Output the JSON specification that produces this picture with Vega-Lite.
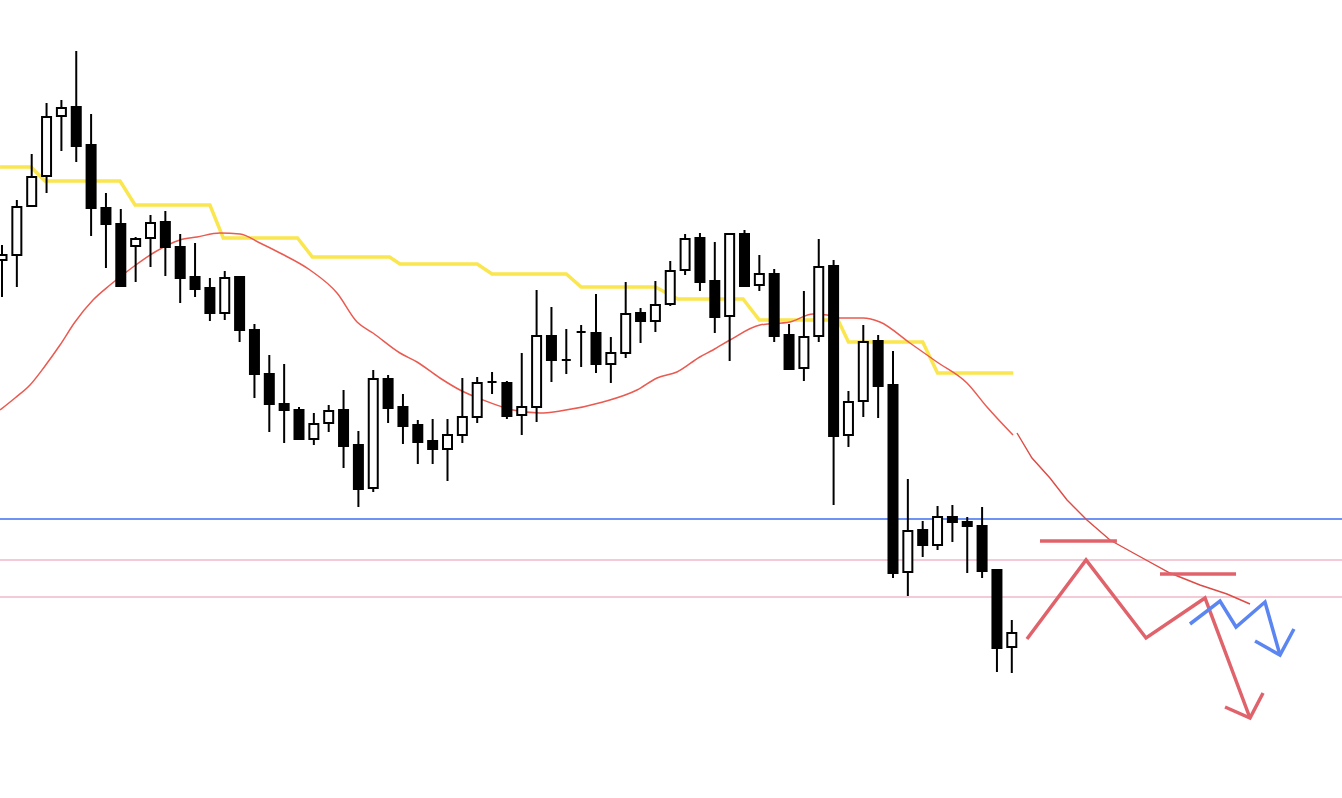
{
  "$schema": "https://vega.github.io/schema/vega-lite/v6.json",
  "width": 1342,
  "height": 798,
  "padding": 0,
  "autosize": {"type": "none"},
  "background": "white",
  "config": {"view": {"stroke": null}},
  "datasets": {
    "candles": [
      {"t":0,"open":145.40,"close":145.45,"high":145.55,"low":145.03},
      {"t":1,"open":145.45,"close":145.93,"high":146.00,"low":145.13},
      {"t":2,"open":145.94,"close":146.23,"high":146.46,"low":145.94},
      {"t":3,"open":146.24,"close":146.83,"high":146.97,"low":146.07},
      {"t":4,"open":146.84,"close":146.92,"high":147.00,"low":146.49},
      {"t":5,"open":146.93,"close":146.54,"high":147.49,"low":146.38},
      {"t":6,"open":146.55,"close":145.92,"high":146.86,"low":145.64},
      {"t":7,"open":145.92,"close":145.76,"high":146.07,"low":145.32},
      {"t":8,"open":145.76,"close":145.14,"high":145.91,"low":145.13},
      {"t":9,"open":145.54,"close":145.61,"high":145.63,"low":145.18},
      {"t":10,"open":145.62,"close":145.77,"high":145.85,"low":145.33},
      {"t":11,"open":145.78,"close":145.53,"high":145.89,"low":145.24},
      {"t":12,"open":145.53,"close":145.22,"high":145.66,"low":144.97},
      {"t":13,"open":145.23,"close":145.11,"high":145.57,"low":145.03},
      {"t":14,"open":145.12,"close":144.87,"high":145.22,"low":144.79},
      {"t":15,"open":144.87,"close":145.22,"high":145.29,"low":144.80},
      {"t":16,"open":145.23,"close":144.70,"high":145.23,"low":144.58},
      {"t":17,"open":144.70,"close":144.26,"high":144.76,"low":144.02},
      {"t":18,"open":144.26,"close":143.96,"high":144.45,"low":143.68},
      {"t":19,"open":143.96,"close":143.90,"high":144.36,"low":143.57},
      {"t":20,"open":143.90,"close":143.61,"high":143.93,"low":143.60},
      {"t":21,"open":143.61,"close":143.76,"high":143.87,"low":143.55},
      {"t":22,"open":143.77,"close":143.89,"high":143.95,"low":143.68},
      {"t":23,"open":143.90,"close":143.54,"high":144.10,"low":143.32},
      {"t":24,"open":143.55,"close":143.11,"high":143.69,"low":142.93},
      {"t":25,"open":143.12,"close":144.21,"high":144.30,"low":143.08},
      {"t":26,"open":144.21,"close":143.92,"high":144.25,"low":143.77},
      {"t":27,"open":143.93,"close":143.74,"high":144.06,"low":143.56},
      {"t":28,"open":143.75,"close":143.58,"high":143.80,"low":143.36},
      {"t":29,"open":143.59,"close":143.51,"high":143.81,"low":143.36},
      {"t":30,"open":143.51,"close":143.65,"high":143.81,"low":143.19},
      {"t":31,"open":143.65,"close":143.83,"high":144.22,"low":143.57},
      {"t":32,"open":143.83,"close":144.17,"high":144.23,"low":143.77},
      {"t":33,"open":144.18,"close":144.18,"high":144.28,"low":144.06},
      {"t":34,"open":144.17,"close":143.84,"high":144.19,"low":143.81},
      {"t":35,"open":143.85,"close":143.93,"high":144.47,"low":143.65},
      {"t":36,"open":143.93,"close":144.64,"high":145.10,"low":143.78},
      {"t":37,"open":144.64,"close":144.40,"high":144.93,"low":144.18},
      {"t":38,"open":144.40,"close":144.40,"high":144.71,"low":144.26},
      {"t":39,"open":144.68,"close":144.68,"high":144.75,"low":144.33},
      {"t":40,"open":144.67,"close":144.36,"high":145.06,"low":144.27},
      {"t":41,"open":144.36,"close":144.47,"high":144.63,"low":144.17},
      {"t":42,"open":144.47,"close":144.86,"high":145.18,"low":144.42},
      {"t":43,"open":144.87,"close":144.79,"high":144.92,"low":144.57},
      {"t":44,"open":144.79,"close":144.95,"high":145.19,"low":144.68},
      {"t":45,"open":144.96,"close":145.29,"high":145.39,"low":144.94},
      {"t":46,"open":145.30,"close":145.61,"high":145.66,"low":145.25},
      {"t":47,"open":145.62,"close":145.18,"high":145.67,"low":145.09},
      {"t":48,"open":145.19,"close":144.83,"high":145.58,"low":144.67},
      {"t":49,"open":144.84,"close":145.66,"high":145.67,"low":144.39},
      {"t":50,"open":145.66,"close":145.14,"high":145.70,"low":145.14},
      {"t":51,"open":145.15,"close":145.26,"high":145.45,"low":145.09},
      {"t":52,"open":145.26,"close":144.64,"high":145.31,"low":144.58},
      {"t":53,"open":144.65,"close":144.31,"high":144.76,"low":144.31},
      {"t":54,"open":144.32,"close":144.63,"high":145.09,"low":144.19},
      {"t":55,"open":144.64,"close":145.33,"high":145.61,"low":144.58},
      {"t":56,"open":145.34,"close":143.64,"high":145.40,"low":142.95},
      {"t":57,"open":143.65,"close":143.98,"high":144.09,"low":143.53},
      {"t":58,"open":143.99,"close":144.58,"high":144.75,"low":143.83},
      {"t":59,"open":144.59,"close":144.14,"high":144.65,"low":143.82},
      {"t":60,"open":144.15,"close":142.27,"high":144.49,"low":142.22},
      {"t":61,"open":142.28,"close":142.69,"high":143.21,"low":142.04},
      {"t":62,"open":142.70,"close":142.55,"high":142.79,"low":142.43},
      {"t":63,"open":142.55,"close":142.83,"high":142.94,"low":142.50},
      {"t":64,"open":142.83,"close":142.78,"high":142.95,"low":142.58},
      {"t":65,"open":142.78,"close":142.74,"high":142.83,"low":142.27},
      {"t":66,"open":142.74,"close":142.29,"high":142.93,"low":142.22},
      {"t":67,"open":142.30,"close":141.52,"high":142.31,"low":141.28},
      {"t":68,"open":141.53,"close":141.67,"high":141.80,"low":141.27}
    ],
    "htf": [
      {"t":-0.13,"p":146.33},{"t":1.95,"p":146.33},{"t":2.9,"p":146.19},{"t":7.95,"p":146.19},
      {"t":8.96,"p":145.95},{"t":14.0,"p":145.95},{"t":14.9,"p":145.62},{"t":19.9,"p":145.62},
      {"t":20.9,"p":145.43},{"t":26.1,"p":145.43},{"t":26.8,"p":145.36},{"t":32.0,"p":145.36},
      {"t":33.0,"p":145.26},{"t":38.0,"p":145.26},{"t":39.0,"p":145.13},{"t":44.0,"p":145.13},
      {"t":45.5,"p":145.01},{"t":49.9,"p":145.01},{"t":51.0,"p":144.80},{"t":56.3,"p":144.80},
      {"t":57.0,"p":144.58},{"t":62.0,"p":144.58},{"t":63.0,"p":144.27},{"t":68.1,"p":144.27}
    ],
    "ma": [
      {"t":-0.13,"p":143.90},{"t":0.875,"p":144.02},{"t":1.886,"p":144.15},{"t":2.896,"p":144.34},
      {"t":3.906,"p":144.55},{"t":4.916,"p":144.78},{"t":6.128,"p":145.00},{"t":7.273,"p":145.15},
      {"t":8.822,"p":145.33},{"t":10.30,"p":145.48},{"t":11.99,"p":145.60},{"t":13.13,"p":145.63},
      {"t":14.68,"p":145.67},{"t":16.03,"p":145.66},{"t":17.37,"p":145.57},{"t":18.72,"p":145.47},
      {"t":20.74,"p":145.30},{"t":22.56,"p":145.07},{"t":23.91,"p":144.78},{"t":24.98,"p":144.67},
      {"t":26.80,"p":144.47},{"t":27.95,"p":144.38},{"t":29.49,"p":144.22},{"t":30.84,"p":144.10},
      {"t":32.39,"p":144.00},{"t":34.41,"p":143.90},{"t":36.23,"p":143.87},{"t":37.58,"p":143.89},
      {"t":40.47,"p":143.98},{"t":42.76,"p":144.10},{"t":44.11,"p":144.22},{"t":45.45,"p":144.28},
      {"t":46.99,"p":144.43},{"t":47.88,"p":144.50},{"t":49.02,"p":144.60},{"t":51.04,"p":144.75},
      {"t":53.06,"p":144.78},{"t":54.61,"p":144.86},{"t":55.56,"p":144.85},{"t":56.43,"p":144.82},
      {"t":57.98,"p":144.82},{"t":59.12,"p":144.78},{"t":61.14,"p":144.57},{"t":62.96,"p":144.38},
      {"t":64.98,"p":144.17},{"t":66.33,"p":143.93},{"t":68.08,"p":143.65}
    ],
    "ma2": [
      {"t":68.35,"p":143.67},{"t":69.36,"p":143.42},{"t":70.57,"p":143.22},{"t":71.72,"p":143.00},
      {"t":73.06,"p":142.80},{"t":74.61,"p":142.60},{"t":76.43,"p":142.45},{"t":78.65,"p":142.27},
      {"t":80.67,"p":142.15},{"t":82.49,"p":142.06},{"t":84.04,"p":141.96}
    ],
    "levels": [
      {"lvl":"blue","p":142.81},
      {"lvl":"pink","p":142.40},
      {"lvl":"pink","p":142.03}
    ],
    "segs": [
      {"t":69.9,"t2":75.08,"p":142.59},
      {"t":77.98,"t2":83.1,"p":142.26}
    ],
    "redpath": [
      {"s":"a","k":1,"t":69.02,"p":141.61},{"s":"a","k":2,"t":73.0,"p":142.40},
      {"s":"a","k":3,"t":77.04,"p":141.62},{"s":"a","k":4,"t":81.01,"p":142.02},
      {"s":"a","k":5,"t":84.04,"p":140.82},
      {"s":"b","k":1,"t":82.36,"p":140.93},{"s":"b","k":2,"t":84.04,"p":140.82},
      {"s":"b","k":3,"t":84.92,"p":141.07}
    ],
    "bluepath": [
      {"s":"a","k":1,"t":80.0,"p":141.76},{"s":"a","k":2,"t":82.02,"p":141.99},
      {"s":"a","k":3,"t":83.1,"p":141.73},{"s":"a","k":4,"t":85.05,"p":141.98},
      {"s":"a","k":5,"t":86.06,"p":141.45},
      {"s":"b","k":1,"t":84.38,"p":141.59},{"s":"b","k":2,"t":86.06,"p":141.45},
      {"s":"b","k":3,"t":87.0,"p":141.71}
    ]
  },
  "layer": [
    {
      "data": {"name": "levels"},
      "mark": {"type": "rule", "strokeWidth": 1.5},
      "encoding": {
        "y": {"field": "p", "type": "quantitative", "scale": {"domain": [140.02, 148], "zero": false, "nice": false, "padding": 0}, "axis": null},
        "color": {"field": "lvl", "type": "nominal", "scale": {"domain": ["blue", "pink"], "range": ["#3f6ef2", "#f1b9c9"]}, "legend": null}
      }
    },
    {
      "data": {"name": "htf"},
      "mark": {"type": "line", "color": "#fae64f", "strokeWidth": 3.5, "strokeJoin": "miter"},
      "encoding": {
        "x": {"field": "t", "type": "quantitative", "scale": {"domain": [-0.1347, 90.236], "zero": false, "nice": false, "padding": 0}, "axis": null},
        "y": {"field": "p", "type": "quantitative", "axis": null}
      }
    },
    {
      "data": {"name": "ma"},
      "mark": {"type": "line", "color": "#ea5a50", "strokeWidth": 1.5, "interpolate": "monotone"},
      "encoding": {
        "x": {"field": "t", "type": "quantitative", "axis": null},
        "y": {"field": "p", "type": "quantitative", "axis": null}
      }
    },
    {
      "data": {"name": "ma2"},
      "mark": {"type": "line", "color": "#de4a44", "strokeWidth": 1.4},
      "encoding": {
        "x": {"field": "t", "type": "quantitative", "axis": null},
        "y": {"field": "p", "type": "quantitative", "axis": null}
      }
    },
    {
      "data": {"name": "segs"},
      "mark": {"type": "rule", "color": "#e0636b", "strokeWidth": 3.5},
      "encoding": {
        "x": {"field": "t", "type": "quantitative", "axis": null},
        "x2": {"field": "t2"},
        "y": {"field": "p", "type": "quantitative", "axis": null}
      }
    },
    {
      "data": {"name": "redpath"},
      "mark": {"type": "line", "color": "#e0636b", "strokeWidth": 3.5, "strokeJoin": "miter"},
      "encoding": {
        "x": {"field": "t", "type": "quantitative", "axis": null},
        "y": {"field": "p", "type": "quantitative", "axis": null},
        "detail": {"field": "s"},
        "order": {"field": "k"}
      }
    },
    {
      "data": {"name": "bluepath"},
      "mark": {"type": "line", "color": "#5b86f2", "strokeWidth": 3.5, "strokeJoin": "miter"},
      "encoding": {
        "x": {"field": "t", "type": "quantitative", "axis": null},
        "y": {"field": "p", "type": "quantitative", "axis": null},
        "detail": {"field": "s"},
        "order": {"field": "k"}
      }
    },
    {
      "data": {"name": "candles"},
      "mark": {"type": "rule", "color": "#000000", "strokeWidth": 2},
      "encoding": {
        "x": {"field": "t", "type": "quantitative", "axis": null},
        "y": {"field": "low", "type": "quantitative", "axis": null},
        "y2": {"field": "high"}
      }
    },
    {
      "data": {"name": "candles"},
      "mark": {"type": "bar", "size": 9, "stroke": "#000000", "strokeWidth": 2},
      "encoding": {
        "x": {"field": "t", "type": "quantitative", "axis": null},
        "y": {"field": "open", "type": "quantitative", "axis": null},
        "y2": {"field": "close"},
        "fill": {"condition": {"test": "datum.close > datum.open", "value": "#ffffff"}, "value": "#000000"}
      }
    }
  ]
}
